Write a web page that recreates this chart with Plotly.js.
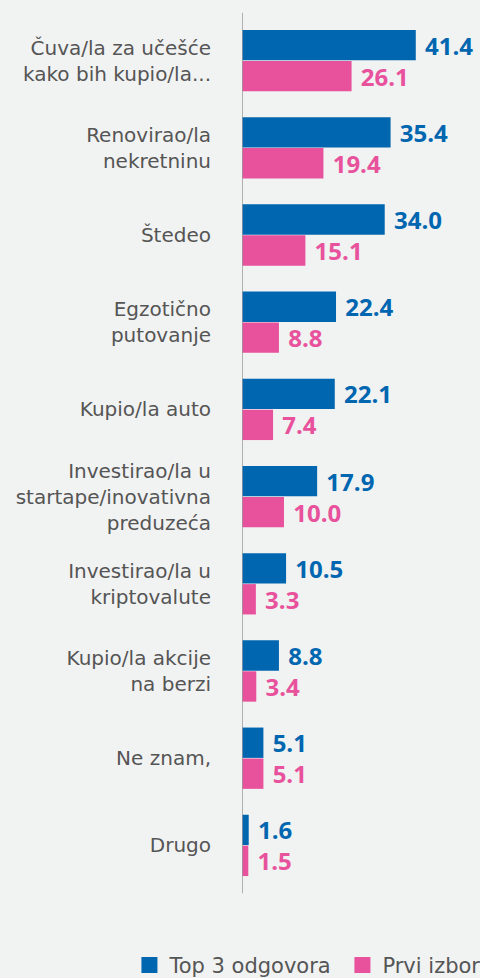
<!DOCTYPE html>
<html><head><meta charset="utf-8">
<script src="https://cdn.plot.ly/plotly-3.0.1.min.js"></script>
<style>html,body{margin:0;padding:0;background:#f1f2f2;}#chart{width:480px;height:978px;}</style>
</head><body><div id="chart"></div>
<script>
const categories = [
  "Čuva/la za učešće<br>kako bih kupio/la...",
  "Renovirao/la<br>nekretninu",
  "Štedeo",
  "Egzotično<br>putovanje",
  "Kupio/la auto",
  "Investirao/la u<br>startape/inovativna<br>preduzeća",
  "Investirao/la u<br>kriptovalute",
  "Kupio/la akcije<br>na berzi",
  "Ne znam,",
  "Drugo"
];
const top3 = [41.4, 35.4, 34.0, 22.4, 22.1, 17.9, 10.5, 8.8, 5.1, 1.6];
const prvi = [26.1, 19.4, 15.1, 8.8, 7.4, 10.0, 3.3, 3.4, 5.1, 1.5];
const seriesNames = ["Top 3 odgovora", "Prvi izbor"];
const colors = ["#0066b0", "#e8519b"];

function mk(vals, i){
  return {
    type:'bar', orientation:'h', y:categories, x:vals, name:seriesNames[i],
    marker:{color:colors[i]},
    text:vals.map(v=>'\u00a0'+v.toFixed(1)),
    textposition:'outside', cliponaxis:false, constraintext:'none',
    textfont:{family:'Open Sans', size:24, color:colors[i], weight:700},
    hoverinfo:'skip'
  };
}
const data=[mk(top3,0), mk(prvi,1)];
const layout={
  width:480, height:978,
  paper_bgcolor:'#f1f2f2', plot_bgcolor:'#f1f2f2',
  margin:{l:242, r:0, t:17, b:89, autoexpand:false},
  barmode:'group', bargap:0.29, bargroupgap:0.02,
  showlegend:true,
  legend:{orientation:'h', x:-0.473, xanchor:'left', y:-0.0875, yanchor:'middle',
    entrywidth:168,
    font:{family:'DejaVu Sans', size:21, color:'#555'}, bgcolor:'rgba(0,0,0,0)', itemwidth:30, tracegroupgap:0},
  xaxis:{range:[0,56.7], visible:false, fixedrange:true},
  yaxis:{autorange:'reversed', showline:false, showgrid:false, zeroline:false, ticks:'',
    ticklabelstandoff:30,
    tickfont:{family:'DejaVu Sans', size:20, color:'#555'}},
  shapes:[{type:'line', xref:'x', yref:'paper', x0:0, x1:0, y0:-0.005, y1:1.005,
    line:{color:'#9a9a9a', width:1.5}}],
  font:{family:'DejaVu Sans'}
};
Plotly.newPlot('chart', data, layout, {displayModeBar:false, staticPlot:true}).then(gd=>{
  gd.querySelectorAll('.legend .legendpoints path').forEach(p=>p.setAttribute('d','M8,8H-8V-8H8Z'));
});
</script></body></html>
